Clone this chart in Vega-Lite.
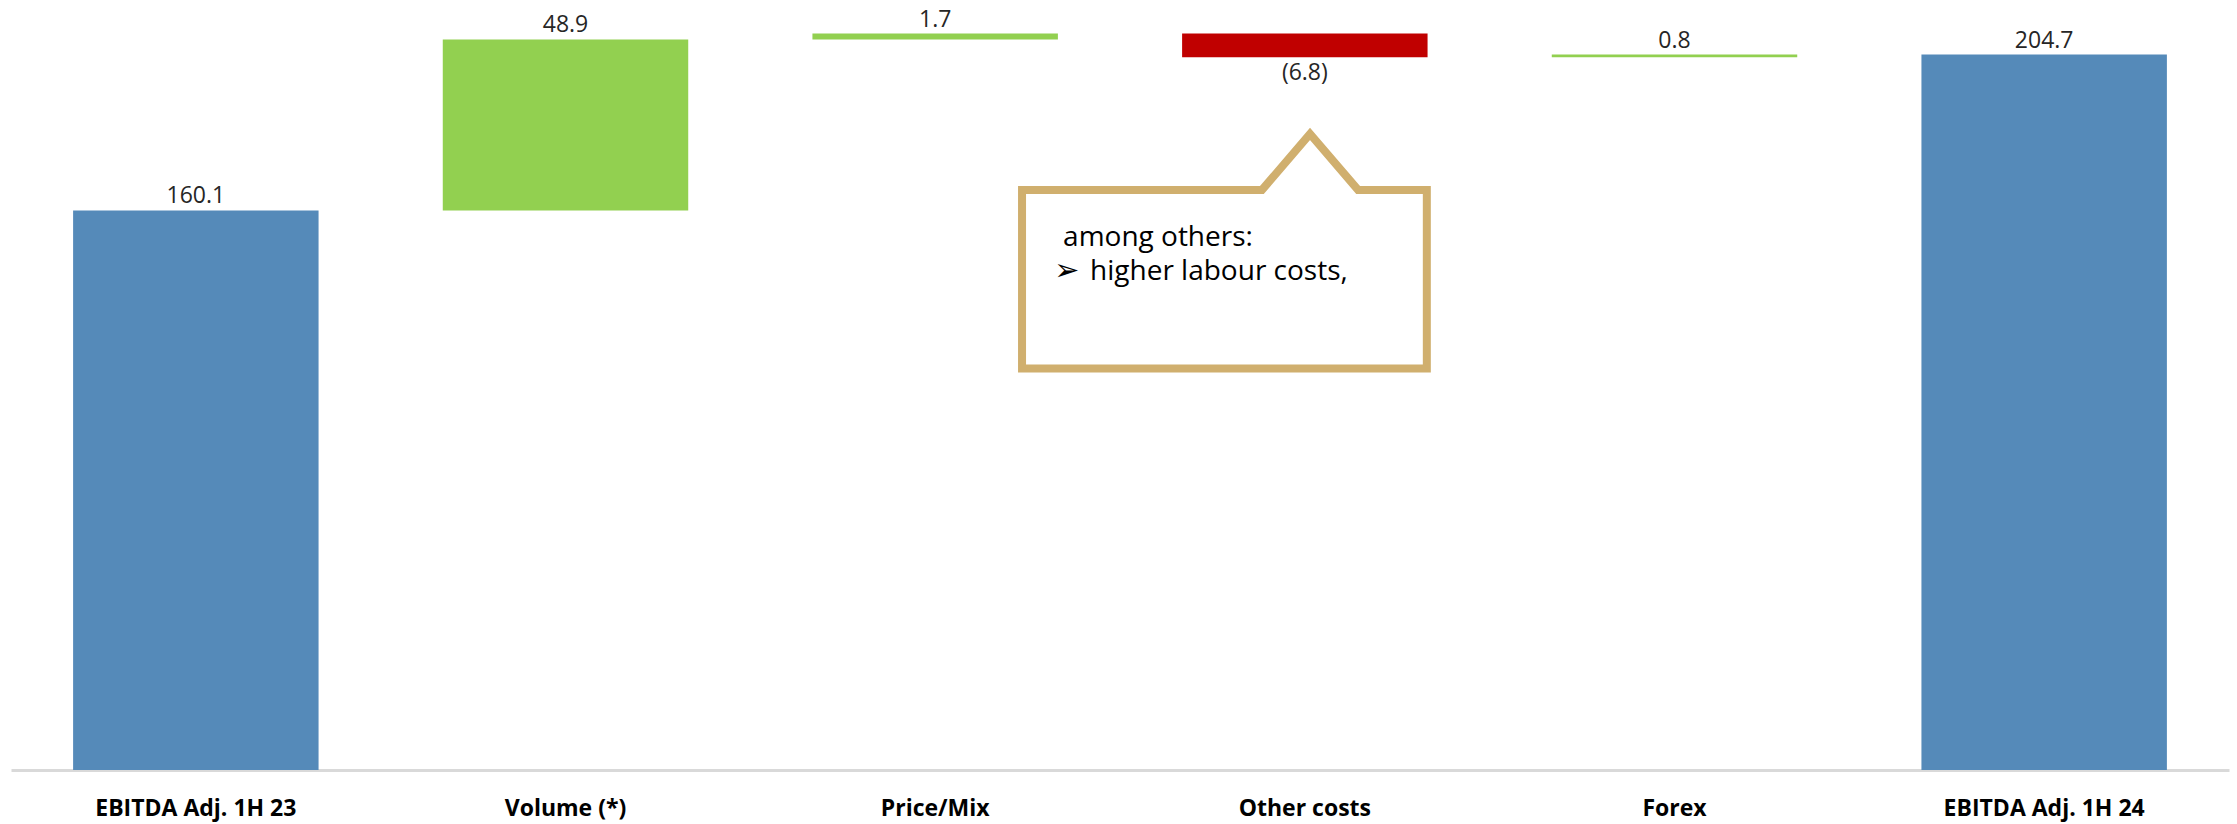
{
  "$schema": "https://vega.github.io/schema/vega-lite/v6.json",
  "width": 2218,
  "height": 770,
  "autosize": {"type": "none"},
  "padding": {"left": 11, "top": 0, "right": 8, "bottom": 54},
  "background": "white",
  "config": {"view": {"stroke": null}, "font": "Open Sans"},
  "datasets": {
    "bars": [
      {"category": "EBITDA Adj. 1H 23", "start": 0, "end": 160.1, "type": "total", "label": "160.1"},
      {"category": "Volume (*)", "start": 160.1, "end": 209.0, "type": "pos", "label": "48.9"},
      {"category": "Price/Mix", "start": 209.0, "end": 210.7, "type": "pos", "label": "1.7"},
      {"category": "Other costs", "start": 210.7, "end": 203.9, "type": "neg", "label": "(6.8)"},
      {"category": "Forex", "start": 203.9, "end": 204.7, "type": "pos", "label": "0.8"},
      {"category": "EBITDA Adj. 1H 24", "start": 0, "end": 204.7, "type": "total", "label": "204.7"}
    ],
    "callout": [
      {"o": 1, "cx": 2.735, "cy": 114.9},
      {"o": 2, "cx": 2.735, "cy": 165.95},
      {"o": 3, "cx": 3.384, "cy": 165.95},
      {"o": 4, "cx": 3.514, "cy": 182.0},
      {"o": 5, "cx": 3.644, "cy": 165.95},
      {"o": 6, "cx": 3.830, "cy": 165.95},
      {"o": 7, "cx": 3.830, "cy": 114.9},
      {"o": 8, "cx": 2.735, "cy": 114.9}
    ],
    "note": [
      {"text": "among others:", "tx": 2.846, "ty": 150.0, "fs": "a"},
      {"text": "➢", "tx": 2.822, "ty": 140.2, "fs": "b"},
      {"text": "higher labour costs,", "tx": 2.919, "ty": 140.2, "fs": "a"}
    ]
  },
  "layer": [
    {
      "layer": [
        {
          "data": {"name": "bars"},
          "mark": {"type": "bar"},
          "encoding": {
            "x": {
              "field": "category", "type": "nominal", "sort": null,
              "scale": {"paddingInner": 0.336, "paddingOuter": 0.168},
              "axis": {
                "title": null, "labelAngle": 0, "labelFontSize": 23, "labelFontWeight": "bold",
                "labelColor": "#000000", "labelFont": "Open Sans", "labelBaseline": "alphabetic",
                "labelPadding": 45, "labelLimit": 0, "ticks": false, "domainColor": "#D9D9D9", "domainWidth": 3
              }
            },
            "y": {"field": "start", "type": "quantitative", "scale": {"domain": [0, 220.3], "nice": false, "zero": true}, "axis": null},
            "y2": {"field": "end"},
            "color": {"field": "type", "type": "nominal", "scale": {"domain": ["total", "pos", "neg"], "range": ["#558AB9", "#92D050", "#C00000"]}, "legend": null}
          }
        },
        {
          "data": {"name": "bars"},
          "transform": [{"filter": "datum.type != 'neg'"}],
          "mark": {"type": "text", "fontSize": 23, "color": "#262626", "baseline": "alphabetic", "dy": -7},
          "encoding": {
            "x": {"field": "category", "type": "nominal", "sort": null},
            "y": {"field": "end", "type": "quantitative"},
            "text": {"field": "label"}
          }
        },
        {
          "data": {"name": "bars"},
          "transform": [{"filter": "datum.type == 'neg'"}],
          "mark": {"type": "text", "fontSize": 23, "color": "#262626", "baseline": "alphabetic", "dy": 23},
          "encoding": {
            "x": {"field": "category", "type": "nominal", "sort": null},
            "y": {"field": "end", "type": "quantitative"},
            "text": {"field": "label"}
          }
        }
      ]
    },
    {
      "layer": [
        {
          "data": {"name": "callout"},
          "mark": {"type": "line", "color": "#D0AF6E", "strokeWidth": 8, "strokeJoin": "miter", "strokeCap": "square"},
          "encoding": {
            "x": {"field": "cx", "type": "quantitative", "scale": {"domain": [0, 6], "nice": false, "zero": false}, "axis": null},
            "y": {"field": "cy", "type": "quantitative"},
            "order": {"field": "o", "type": "quantitative"}
          }
        },
        {
          "data": {"name": "note"},
          "transform": [{"filter": "datum.fs == 'a'"}],
          "mark": {"type": "text", "fontSize": 28, "color": "#000000", "align": "left", "baseline": "alphabetic"},
          "encoding": {
            "x": {"field": "tx", "type": "quantitative"},
            "y": {"field": "ty", "type": "quantitative"},
            "text": {"field": "text"}
          }
        },
        {
          "data": {"name": "note"},
          "transform": [{"filter": "datum.fs == 'b'"}],
          "mark": {"type": "text", "fontSize": 30, "font": "DejaVu Sans", "color": "#000000", "align": "left", "baseline": "alphabetic"},
          "encoding": {
            "x": {"field": "tx", "type": "quantitative"},
            "y": {"field": "ty", "type": "quantitative"},
            "text": {"field": "text"}
          }
        }
      ]
    }
  ],
  "resolve": {"scale": {"x": "independent"}}
}
